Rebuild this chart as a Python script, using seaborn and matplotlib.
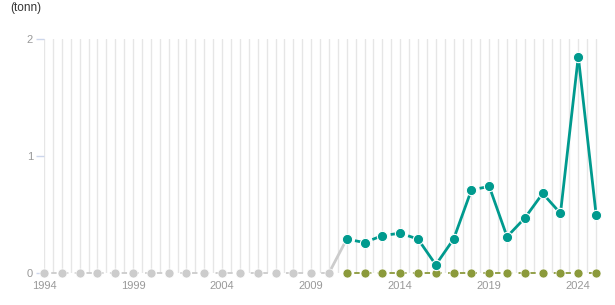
import matplotlib
matplotlib.use("Agg")
import matplotlib.pyplot as plt
import seaborn as sns
import pandas as pd

# ---- data ----
years_hist = [1994, 1995, 1996, 1997, 1998, 1999, 2000, 2001, 2002, 2003,
              2004, 2005, 2006, 2007, 2008, 2009, 2010]
hist_vals = [0, 0, 0, 0, 0, 0, 0, 0, 0, 0, 0, 0, 0, 0, 0, 0, 0]

years_main = [2011, 2012, 2013, 2014, 2015, 2016, 2017, 2018, 2019, 2020,
              2021, 2022, 2023, 2024, 2025]
teal_vals = [0.29, 0.26, 0.32, 0.34, 0.29, 0.07, 0.29, 0.71, 0.74, 0.31,
             0.47, 0.68, 0.51, 1.85, 0.50]
olive_vals = [0, 0, 0, 0, 0, 0, 0, 0, 0, 0, 0, 0, 0, 0, 0]

xtick_years = [1994, 1999, 2004, 2009, 2014, 2019, 2024]
ytick_vals = [0, 1, 2]
unit_label = "(tonn)"

# per-segment line style of the teal series (dashed or solid)
teal_seg_dashed = [True, True, True, True, False, False, False, True,
                   False, False, False, False, False, False]

TEAL = "#009a8e"
OLIVE = "#8b9a3b"
GREY = "#cccccc"

sns.set_style("white")
plt.rcParams["font.family"] = ["Liberation Sans", "DejaVu Sans"]

fig = plt.figure(figsize=(6.15, 3.05), dpi=100)
ax = fig.add_axes([44 / 615, 32 / 305, (605 - 44) / 615, (273 - 39) / 305])

# teal segments
rows = []
for i, d in enumerate(teal_seg_dashed):
    kind = "dash" if d else "solid"
    for j in (i, i + 1):
        rows.append({"year": years_main[j], "value": teal_vals[j], "seg": i, "kind": kind})
segdf = pd.DataFrame(rows)
n0 = len(ax.lines)
sns.lineplot(data=segdf, x="year", y="value", units="seg", estimator=None,
             style="kind", dashes={"solid": "", "dash": (3, 3)},
             color=TEAL, linewidth=2, legend=False, ax=ax, zorder=3)
for ln in ax.lines[n0:]:
    if ln.get_linestyle() not in ("-", "solid"):
        ln.set_linestyle((3, (3, 3)))

# grey historical series (dashed at zero) and link to first teal point
hist_df = pd.DataFrame({"year": years_hist, "value": hist_vals})
sns.lineplot(data=hist_df, x="year", y="value", color=GREY, linewidth=1.3,
             ax=ax, zorder=2)
ax.lines[-1].set_linestyle((2.5, (3, 3.5)))
link_df = pd.DataFrame({"year": [years_hist[-1], years_main[0]],
                        "value": [hist_vals[-1], teal_vals[0]]})
sns.lineplot(data=link_df, x="year", y="value", color=GREY, linewidth=2, ax=ax, zorder=2)

# olive series at zero
olive_df = pd.DataFrame({"year": years_main, "value": olive_vals})
sns.lineplot(data=olive_df, x="year", y="value", color=OLIVE, linewidth=1.3,
             ax=ax, zorder=2)
ax.lines[-1].set_linestyle((2.5, (3, 3.5)))

# markers
sns.scatterplot(data=hist_df, x="year", y="value", color=GREY, s=42,
                edgecolor="white", linewidth=0.5, ax=ax, zorder=4, clip_on=False)
sns.scatterplot(data=olive_df, x="year", y="value", color=OLIVE, s=42,
                edgecolor="white", linewidth=0.5, ax=ax, zorder=4, clip_on=False)
teal_df = pd.DataFrame({"year": years_main, "value": teal_vals})
sns.scatterplot(data=teal_df, x="year", y="value", color=TEAL, s=55,
                edgecolor="white", linewidth=0.8, ax=ax, zorder=5, clip_on=False)

for ln in ax.lines:
    ln.set_clip_on(False)

ax.set_xlim(1994, 2025.5)
ax.set_ylim(0, 2)

ax.set_xticks(xtick_years)
ax.set_xticklabels([str(y) for y in xtick_years])
ax.set_xticks([1994 + 0.5 * k for k in range(63)], minor=True)
ax.set_yticks(ytick_vals)
ax.set_yticklabels([str(v) for v in ytick_vals])

ax.grid(axis="x", which="both", color="#e6e6e6", linewidth=1)
ax.grid(axis="y", visible=False)
ax.set_axisbelow(True)
ax.tick_params(axis="x", which="both", length=0, pad=6, labelsize=8, labelcolor="#999999")
ax.tick_params(axis="y", length=6, width=1, color="#ccd6eb", pad=2,
               labelsize=8, labelcolor="#999999", left=True)
for s in ax.spines.values():
    s.set_visible(False)
ax.set_xlabel("")
ax.set_ylabel("")

fig.text(10 / 615, 1 - 8 / 305, unit_label, fontsize=8.5, color="#333333",
         ha="left", va="center")

fig.savefig("out.png", dpi=100)
